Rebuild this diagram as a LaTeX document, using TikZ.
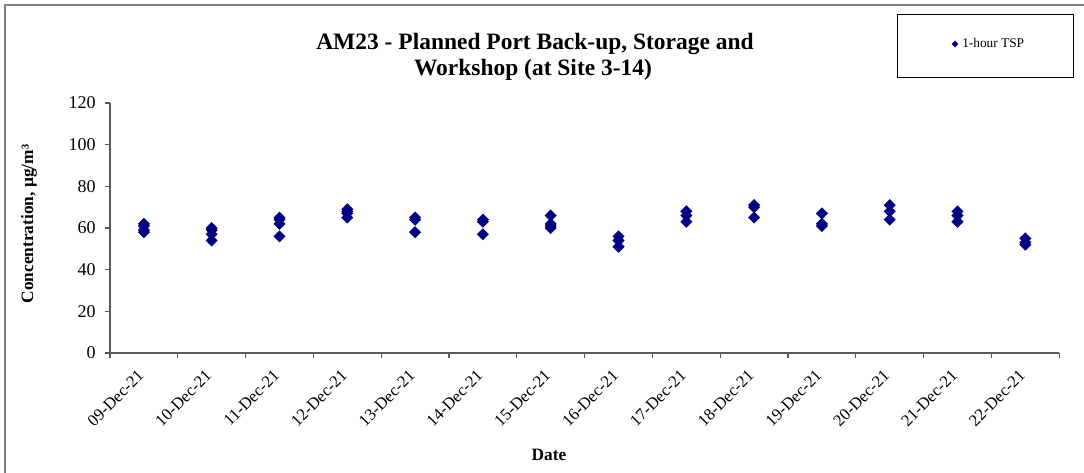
\documentclass[tikz,border=0pt]{standalone}
\usepackage{fontspec}
\setmainfont{Liberation Serif}
\usetikzlibrary{shapes.geometric}
\definecolor{navy}{RGB}{0,0,128}
\definecolor{framegray}{RGB}{128,128,128}
\definecolor{axisgray}{RGB}{90,90,90}
\begin{document}
\begin{tikzpicture}[x=0.75pt,y=-0.75pt,
  mk/.style={diamond, fill=navy, draw=none, inner sep=0pt, minimum width=9.2pt, minimum height=9.2pt},
  lmk/.style={diamond, fill=navy, draw=none, inner sep=0pt, minimum width=5.2pt, minimum height=5.2pt},
  axisline/.style={draw=axisgray, line width=0.8pt},
  ticklab/.style={font=\fontsize{13.5}{15}\selectfont, inner sep=0pt},
  datelab/.style={font=\fontsize{12.5}{14}\selectfont, inner sep=0pt, rotate=45, anchor=east},
  boldlab/.style={font=\fontsize{13}{15}\selectfont\bfseries, inner sep=0pt},
  titlefont/.style={font=\fontsize{17.6}{20}\selectfont\bfseries, inner sep=0pt, anchor=base}]
\useasboundingbox (0,0) rectangle (1084,473);
% outer frame (top and left edges)
\draw[framegray, line width=1.4pt] (5.3,473) -- (5.3,4.7) -- (1084,4.7);
% title
\node[titlefont] (title1) at (535,50) {AM23 - Planned Port Back-up, Storage and};
\node[titlefont] (title2) at (533,75.8) {Workshop (at Site 3-14)};
% legend
\node[draw=black, line width=0.6pt, minimum width=132pt, minimum height=47.25pt, inner sep=0pt] (legend) at (985,45.5) {};
\node[lmk] (legmark) at (955,44) {};
\node[font=\fontsize{10}{12}\selectfont, inner sep=0pt, anchor=base west] (legtext) at (962,48) {1-hour TSP};
% axes
\coordinate (ytop) at (110,103);
\coordinate (origin) at (110,353);
\coordinate (xend) at (1059,353);
\draw[axisline] (ytop) -- (origin) -- (xend);
% y ticks and labels
\foreach \v in {0,20,...,120} {
  \coordinate (yt-\v) at (110,{353-\v*2.08333});
  \draw[axisline] (yt-\v) -- ++(-5,0);
  \node[ticklab, anchor=east] (yl-\v) at (96,{353-\v*2.08333}) {\v};
}
% x ticks
\foreach \k in {0,...,14} {
  \coordinate (xt-\k) at ({110+67.8*\k},353);
  \draw[axisline] (xt-\k) -- ++(0,5);
}
% x labels
\foreach \d [count=\k from 0] in {09,10,11,12,13,14,15,16,17,18,19,20,21,22} {
  \node[datelab] (xl-\k) at ({110+67.8*(\k+0.5)-3},373) {\d-Dec-21};
}
% axis titles
\node[boldlab, rotate=90] (ytitle) at (29,224) {Concentration, µg/m³};
\node[boldlab, anchor=base] (xtitle) at (549,460) {Date};
% data
\foreach \k/\vals in {0/{62,61,59,58},1/{60,59,57,54},2/{65,64,62,56},3/{69,68,67,65},
  4/{65,64,58},5/{64,63,57},6/{66,62,61,60},7/{56,54,51},8/{68,66,63},9/{71,70,65},
  10/{67,62,61},11/{71,68,64},12/{68,66,63},13/{55,53,52}} {
  \foreach \v [count=\j] in \vals {
    \node[mk] (d-\k-\j) at ({110+67.8*(\k+0.5)},{353-\v*2.08333}) {};
  }
}
\end{tikzpicture}
\end{document}
